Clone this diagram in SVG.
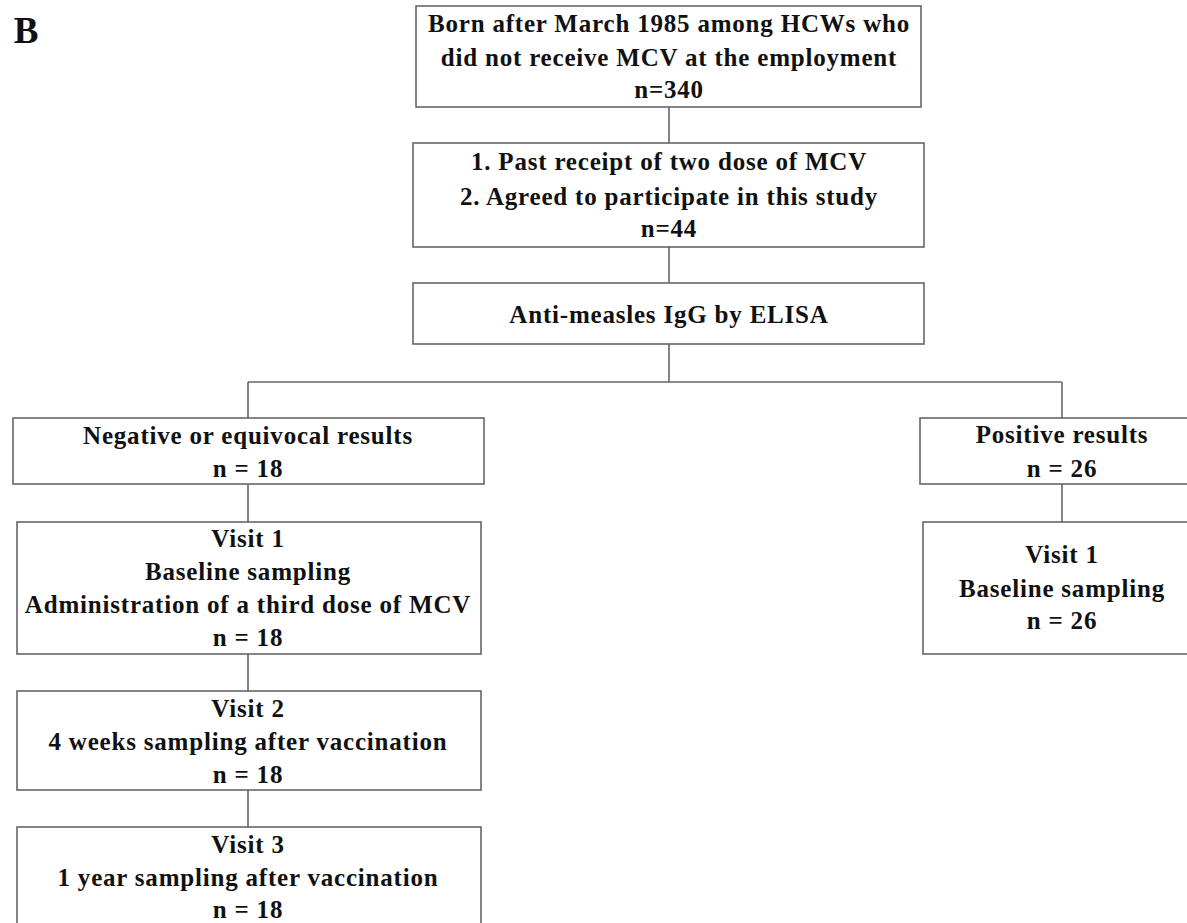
<svg xmlns="http://www.w3.org/2000/svg" width="1187" height="923" viewBox="0 0 1187 923">
<style>
.box{fill:#fff;stroke:#666;stroke-width:1.6}
.ln{fill:none;stroke:#666;stroke-width:1.6}
text{font-family:"Liberation Serif","Times New Roman",serif;font-weight:bold;font-size:25px;fill:#111;text-anchor:middle;letter-spacing:0.8px}
</style>
<rect width="1187" height="923" fill="#fff"/>
<text x="26" y="43" style="font-size:37px;letter-spacing:0">B</text>
<g id="connectors">
<path class="ln" d="M669 107V143M669 247V283M669 344V382M248 382H1062M248 382V418M1062 382V418M248 484V522M248 654V691M248 790V827M1062 484V522"/>
</g>
<g id="n1"><rect class="box" x="416" y="6" width="505" height="101"/>
<text x="669" y="32">Born after March 1985 among HCWs who</text>
<text x="669" y="66">did not receive MCV at the employment</text>
<text x="669" y="98">n=340</text></g>
<g id="n2"><rect class="box" x="413" y="143" width="511" height="104"/>
<text x="669" y="170">1. Past receipt of two dose of MCV</text>
<text x="669" y="205">2. Agreed to participate in this study</text>
<text x="669" y="237">n=44</text></g>
<g id="n3"><rect class="box" x="413" y="283" width="511" height="61"/>
<text x="669" y="323">Anti-measles IgG by ELISA</text></g>
<g id="n4"><rect class="box" x="13" y="418" width="471" height="66"/>
<text x="248" y="444">Negative or equivocal results</text>
<text x="248" y="477">n = 18</text></g>
<g id="n5"><rect class="box" x="17" y="522" width="464" height="132"/>
<text x="248" y="547">Visit 1</text>
<text x="248" y="580">Baseline sampling</text>
<text x="248" y="613">Administration of a third dose of MCV</text>
<text x="248" y="646">n = 18</text></g>
<g id="n6"><rect class="box" x="17" y="691" width="464" height="99"/>
<text x="248" y="717">Visit 2</text>
<text x="248" y="750">4 weeks sampling after vaccination</text>
<text x="248" y="783">n = 18</text></g>
<g id="n7"><rect class="box" x="17" y="827" width="464" height="110"/>
<text x="248" y="853">Visit 3</text>
<text x="248" y="886">1 year sampling after vaccination</text>
<text x="248" y="918">n = 18</text></g>
<g id="n8"><rect class="box" x="920" y="418" width="284" height="66"/>
<text x="1062" y="443">Positive results</text>
<text x="1062" y="477">n = 26</text></g>
<g id="n9"><rect class="box" x="923" y="522" width="278" height="132"/>
<text x="1062" y="563">Visit 1</text>
<text x="1062" y="597">Baseline sampling</text>
<text x="1062" y="629">n = 26</text></g>
</svg>
